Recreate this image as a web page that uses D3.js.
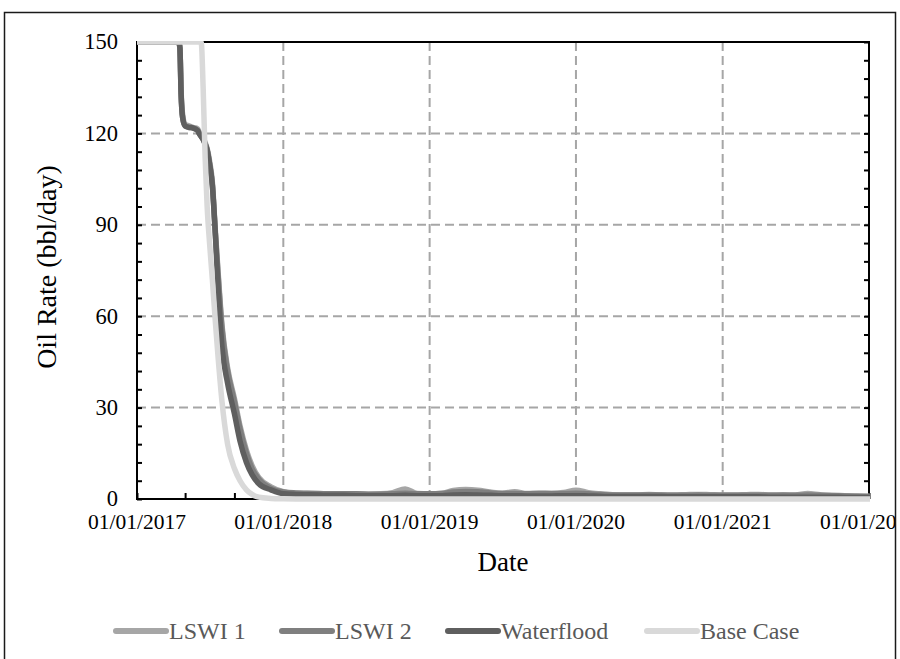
<!DOCTYPE html>
<html>
<head>
<meta charset="utf-8">
<script src="https://cdn.jsdelivr.net/npm/d3@7"></script>
<style>
  body { margin: 0; background: #fff; }
  svg { display: block; }
  text { font-family: "Liberation Serif", "Times New Roman", serif; }
</style>
</head>
<body>
<svg id="chart" width="900" height="659"></svg>
<script>
// Sample dates shared by every series (dense through the 2017 decline, monthly after)
const dates = [
  "2017-01-01","2017-04-15","2017-04-18","2017-04-21","2017-04-25","2017-05-01",
  "2017-05-10","2017-05-20","2017-06-01","2017-06-05","2017-06-10","2017-06-15",
  "2017-06-20","2017-06-25","2017-07-01","2017-07-08","2017-07-15","2017-07-22",
  "2017-08-01","2017-08-15","2017-09-01","2017-09-15","2017-10-01","2017-10-15",
  "2017-11-01","2017-12-01",
  "2018-01-01","2018-02-01","2018-03-01","2018-04-01","2018-05-01","2018-06-01",
  "2018-07-01","2018-08-01","2018-09-01","2018-10-01","2018-11-01","2018-12-01",
  "2019-01-01","2019-02-01","2019-03-01","2019-04-01","2019-05-01","2019-06-01",
  "2019-07-01","2019-08-01","2019-09-01","2019-10-01","2019-11-01","2019-12-01",
  "2020-01-01","2020-02-01","2020-03-01","2020-04-01","2020-05-01","2020-06-01",
  "2020-07-01","2020-08-01","2020-09-01","2020-10-01","2020-11-01","2020-12-01",
  "2021-01-01","2021-02-01","2021-03-01","2021-04-01","2021-05-01","2021-06-01",
  "2021-07-01","2021-08-01","2021-09-01","2021-10-01","2021-11-01","2021-12-01",
  "2022-01-01"
];

// Oil rate, bbl/day
const lswi1 = [
  150,150,148,134,126,123,122.5,122,121.5,120.5,119.5,118.5,117,115,111,104,89,75,57,43,33,24,16,11,7,4,
  2.4,1.9,1.8,1.7,1.7,1.6,1.7,1.6,1.7,2.1,3.3,1.8,
  1.7,1.9,2.8,3.1,2.9,2.3,1.9,2.4,1.8,2.0,1.9,2.1,
  2.9,2.1,1.7,1.4,1.3,1.3,1.5,1.3,1.3,1.4,1.5,1.4,
  1.3,1.3,1.4,1.5,1.3,1.4,1.3,1.8,1.4,1.2,1.1,1.0,0.9
];
const lswi2 = [
  150,150,148,133,125,122.5,122,121.8,121,120,119,118,116.5,114.5,110,103,88,74,56,42,32,23,15,10,6.5,3.5,
  2.3,2.0,1.9,1.8,1.7,1.7,1.7,1.6,1.6,1.7,1.9,1.7,
  1.7,1.8,2.3,2.5,2.4,2.0,1.8,1.8,1.7,1.7,1.7,1.8,
  1.9,1.7,1.5,1.3,1.3,1.3,1.3,1.3,1.2,1.2,1.3,1.2,
  1.2,1.2,1.2,1.2,1.2,1.2,1.2,1.3,1.2,1.1,1.0,0.9,0.8
];
const waterflood = [
  150,150,148,133,125,122.5,122,121.8,121,120,119,118,116.5,114.5,110,103,88,70,50,38,28,19,12,8,5,3,
  1.7,1.5,1.4,1.3,1.2,1.2,1.1,1.1,1.1,1.1,1.2,1.1,
  1.1,1.1,1.3,1.4,1.3,1.2,1.1,1.1,1.0,1.0,1.0,1.1,
  1.1,1.0,0.9,0.8,0.8,0.8,0.8,0.8,0.7,0.7,0.7,0.7,
  0.7,0.7,0.7,0.7,0.6,0.6,0.6,0.6,0.6,0.6,0.5,0.5,0.5
];
const baseCase = [
  150,150,150,150,150,150,150,150,150,150,150,135,112,96,84,72,59,47,32,18,10,6,3,1.5,0.6,0.2,
  0.05,0,0,0,0,0,0,0,0,0,0,0,
  0,0,0,0,0,0,0,0,0,0,0,0,
  0,0,0,0,0,0,0,0,0,0,0,0,
  0,0,0,0,0,0,0,0,0,0,0,0,0
];

const seriesNames = ["LSWI 1", "LSWI 2", "Waterflood", "Base Case"];
const seriesColors = ["#a6a6a6", "#7f7f7f", "#5f5f5f", "#d9d9d9"];

const yTicks = [0, 30, 60, 90, 120, 150];
const xTicks = ["2017-01-01","2018-01-01","2019-01-01","2020-01-01","2021-01-01","2022-01-01"];

const parse = d3.timeParse("%Y-%m-%d");
const fmt = d3.timeFormat("%d/%m/%Y");

const svg = d3.select("#chart");
const plot = { left: 137, right: 869, top: 42, bottom: 499 };

const x = d3.scaleTime()
  .domain([parse("2017-01-01"), parse("2022-01-01")])
  .range([plot.left, plot.right]);
const y = d3.scaleLinear().domain([0, 150]).range([plot.bottom, plot.top]);

const defs = svg.append("defs");
defs.append("clipPath").attr("id", "frameClip")
  .append("rect").attr("x", 4).attr("y", 12).attr("width", 892).attr("height", 660);
// series are allowed to sit over the bottom axis line but not above the top edge
defs.append("clipPath").attr("id", "plotClip")
  .append("rect").attr("x", plot.left).attr("y", plot.top - 1)
  .attr("width", plot.right - plot.left + 1).attr("height", plot.bottom - plot.top + 6);

const root = svg.append("g").attr("clip-path", "url(#frameClip)");

// outer frame
svg.append("rect")
  .attr("x", 4.5).attr("y", 12.5).attr("width", 891).attr("height", 670)
  .attr("fill", "none").attr("stroke", "#1a1a1a").attr("stroke-width", 1.5);

// dashed gridlines
const grid = root.append("g");
grid.selectAll("line.h").data(yTicks.slice(1, -1)).join("line")
  .attr("x1", plot.left).attr("x2", plot.right)
  .attr("y1", d => y(d)).attr("y2", d => y(d))
  .attr("stroke", "#a6a6a6").attr("stroke-width", 2).attr("stroke-dasharray", "9,5");
grid.selectAll("line.v").data(xTicks.slice(1, -1)).join("line")
  .attr("x1", d => x(parse(d))).attr("x2", d => x(parse(d)))
  .attr("y1", plot.top).attr("y2", plot.bottom)
  .attr("stroke", "#a6a6a6").attr("stroke-width", 2).attr("stroke-dasharray", "9,5");

// axes: ticks point inward
const minorY = d3.range(0, 151, 6);
const yLeft = d3.axisRight(y).tickValues(minorY).tickSize(5).tickFormat("");
const yRight = d3.axisLeft(y).tickValues(minorY).tickSize(5).tickFormat("");
const minorX = d3.timeMonth.every(4).range(parse("2017-01-01"), parse("2022-01-02"));
const xBottom = d3.axisTop(x).tickValues(minorX).tickSize(6).tickFormat("");

function styleAxis(g) {
  g.select(".domain").remove();
  g.selectAll(".tick line").attr("stroke", "#000").attr("stroke-width", 2);
}
root.append("g").attr("transform", `translate(${plot.left},0)`).call(yLeft).call(styleAxis);
root.append("g").attr("transform", `translate(${plot.right},0)`).call(yRight).call(styleAxis);
root.append("g").attr("transform", `translate(0,${plot.bottom})`).call(xBottom).call(styleAxis);

// plot box
root.append("rect")
  .attr("x", plot.left).attr("y", plot.top)
  .attr("width", plot.right - plot.left).attr("height", plot.bottom - plot.top)
  .attr("fill", "none").attr("stroke", "#000").attr("stroke-width", 2);

// series lines, drawn over the box
const seriesValues = [lswi1, lswi2, waterflood, baseCase];
const line = d3.line()
  .x((d, i) => x(parse(dates[i])))
  .y(d => y(d))
  .curve(d3.curveMonotoneX);
const lines = root.append("g").attr("clip-path", "url(#plotClip)");
seriesValues.forEach((vals, k) => {
  lines.append("path")
    .datum(vals)
    .attr("d", line)
    .attr("fill", "none")
    .attr("stroke", seriesColors[k])
    .attr("stroke-width", 5.5)
    .attr("stroke-linejoin", "round")
    .attr("stroke-linecap", "round");
});

// tick labels
root.append("g").selectAll("text").data(yTicks).join("text")
  .attr("x", 118).attr("y", d => y(d)).attr("dy", "0.33em")
  .attr("text-anchor", "end").attr("font-size", 22.5).attr("fill", "#000")
  .text(d => d);
root.append("g").selectAll("text").data(xTicks).join("text")
  .attr("x", d => x(parse(d))).attr("y", 529)
  .attr("text-anchor", "middle").attr("font-size", 21.5).attr("fill", "#000")
  .text(d => fmt(parse(d)));

// axis titles
root.append("text")
  .attr("x", 503).attr("y", 571)
  .attr("text-anchor", "middle").attr("font-size", 27).attr("fill", "#000")
  .text("Date");
root.append("text")
  .attr("transform", `translate(56,267) rotate(-90)`)
  .attr("text-anchor", "middle").attr("font-size", 28).attr("fill", "#000")
  .text("Oil Rate (bbl/day)");

// legend
const legendX = [113, 279, 445, 644];
const legend = root.append("g");
seriesNames.forEach((name, k) => {
  const g = legend.append("g").attr("transform", `translate(${legendX[k]},631)`);
  g.append("line").attr("x1", 3).attr("x2", 53).attr("y1", 0).attr("y2", 0)
    .attr("stroke", seriesColors[k]).attr("stroke-width", 6).attr("stroke-linecap", "round");
  g.append("text").attr("x", 56).attr("y", 8)
    .attr("font-size", 24).attr("fill", "#595959").text(name);
});
</script>
</body>
</html>
